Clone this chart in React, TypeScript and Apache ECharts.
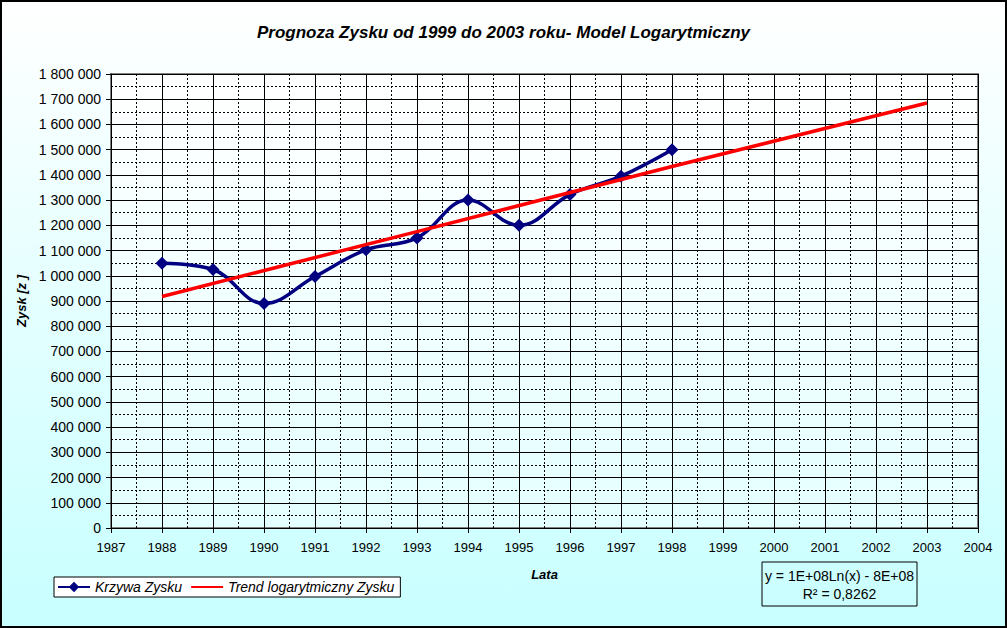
import React, { useEffect, useRef } from "react";
import * as echarts from "echarts";

const years = [1988, 1989, 1990, 1991, 1992, 1993, 1994, 1995, 1996, 1997, 1998];
const profit = [1050000, 1025000, 890000, 997000, 1103000, 1150000, 1300000, 1200000, 1322000, 1395000, 1500000];
const trendYears = [1988, 1993, 1998, 2003];
const trendValues = [918000, 1175000, 1433000, 1685000];
const titleText = "Prognoza Zysku od 1999 do 2003 roku- Model Logarytmiczny";
const seriesNames = ["Krzywa Zysku", "Trend logarytmiczny Zysku"];
const equationLines = ["y = 1E+08Ln(x) - 8E+08", "R² = 0,8262"];

const FONT = "'Liberation Sans', Arial, sans-serif";

export default function App() {
  const ref = useRef<HTMLDivElement>(null);
  useEffect(() => {
    document.body.style.margin = "0";
    const chart = echarts.init(ref.current!, null, { renderer: "svg" });
    const fmt = (v: number) => String(Math.round(v)).replace(/\B(?=(\d{3})+(?!\d))/g, " ");
    chart.setOption({
      animation: false,
      backgroundColor: new echarts.graphic.LinearGradient(0, 0, 0, 1, [
        { offset: 0, color: "#ffffff" },
        { offset: 1, color: "#c8ffff" },
      ]),
      textStyle: { fontFamily: FONT },
      title: {
        text: titleText,
        left: "center",
        top: 19,
        textStyle: { fontSize: 17, fontWeight: "bold", fontStyle: "italic", color: "#000", fontFamily: FONT },
      },
      grid: {
        left: 111,
        right: 29,
        top: 74,
        bottom: 100,
        show: true,
        borderColor: "#808080",
        borderWidth: 2,
        backgroundColor: new echarts.graphic.LinearGradient(0, 0, 0, 1, [
          { offset: 0, color: "#ffffff" },
          { offset: 1, color: "#e4ffff" },
        ]),
      },
      legend: {
        left: 54,
        top: 577,
        orient: "horizontal",
        backgroundColor: "#ffffff",
        borderColor: "#000",
        borderWidth: 1,
        borderRadius: 0,
        padding: [3, 6, 3, 3],
        itemGap: 8,
        itemWidth: 32,
        itemHeight: 13,
        textStyle: { fontSize: 14, fontStyle: "italic", color: "#000", fontFamily: FONT },
        data: [
          { name: seriesNames[0] },
          { name: seriesNames[1], itemStyle: { color: "rgba(0,0,0,0)", borderColor: "rgba(0,0,0,0)", borderWidth: 0, opacity: 0 } },
        ],
      },
      xAxis: {
        type: "value",
        min: 1987,
        max: 2004,
        interval: 1,
        name: "Lata",
        nameLocation: "middle",
        nameGap: 40,
        nameTextStyle: { fontSize: 13, fontWeight: "bold", fontStyle: "italic", color: "#000", fontFamily: FONT },
        axisLine: { show: true, lineStyle: { color: "#000", width: 1 } },
        axisTick: { show: true, inside: false, length: 5, lineStyle: { color: "#000" } },
        axisLabel: { color: "#000", fontSize: 13, margin: 13, formatter: (v: number) => String(v), fontFamily: FONT },
        splitLine: { show: true, lineStyle: { color: "#000", width: 1 } },
        minorTick: { show: false, splitNumber: 2 },
        minorSplitLine: { show: true, lineStyle: { color: "#000", width: 1, type: [2, 2] } },
      },
      yAxis: {
        type: "value",
        min: 0,
        max: 1800000,
        interval: 100000,
        name: "Zysk [z ]",
        nameLocation: "middle",
        nameGap: 82,
        nameRotate: 90,
        nameTextStyle: { fontSize: 13, fontWeight: "bold", fontStyle: "italic", color: "#000", fontFamily: FONT },
        axisLine: { show: true, lineStyle: { color: "#000", width: 1 } },
        axisTick: { show: true, inside: false, length: 5, lineStyle: { color: "#000" } },
        axisLabel: { color: "#000", fontSize: 14, margin: 10, formatter: fmt, fontFamily: FONT },
        splitLine: { show: true, lineStyle: { color: "#000", width: 1 } },
        minorTick: { show: false, splitNumber: 2 },
        minorSplitLine: { show: true, lineStyle: { color: "#000", width: 1, type: [2, 2] } },
      },
      series: [
        {
          name: seriesNames[0],
          type: "line",
          data: years.map((y, i) => [y, profit[i]]),
          smooth: 0.4,
          symbol: "diamond",
          symbolSize: 13,
          lineStyle: { color: "#000080", width: 3.5 },
          itemStyle: { color: "#000080" },
          z: 3,
        },
        {
          name: seriesNames[1],
          type: "line",
          data: trendYears.map((y, i) => [y, trendValues[i]]),
          symbol: "none",
          lineStyle: { color: "#ff0000", width: 3.5 },
          itemStyle: { color: "#ff0000" },
          z: 4,
        },
      ],
      graphic: [
        {
          type: "rect",
          shape: { x: 762, y: 562, width: 155, height: 44 },
          style: { fill: "transparent", stroke: "#000", lineWidth: 1 },
        },
        {
          type: "text",
          x: 839.5,
          y: 576,
          style: { text: equationLines[0], fill: "#000", fontSize: 14, fontFamily: FONT, align: "center", verticalAlign: "middle" },
        },
        {
          type: "text",
          x: 839.5,
          y: 594,
          style: { text: equationLines[1], fill: "#000", fontSize: 14, fontFamily: FONT, align: "center", verticalAlign: "middle" },
        },
        {
          type: "rect",
          shape: { x: 1, y: 1, width: 1005, height: 626 },
          style: { fill: "transparent", stroke: "#000", lineWidth: 2 },
          z: 100,
        },
      ],
    });
    return () => chart.dispose();
  }, []);
  return <div ref={ref} style={{ width: 1007, height: 628, position: "absolute", left: 0, top: 0 }} />;
}
